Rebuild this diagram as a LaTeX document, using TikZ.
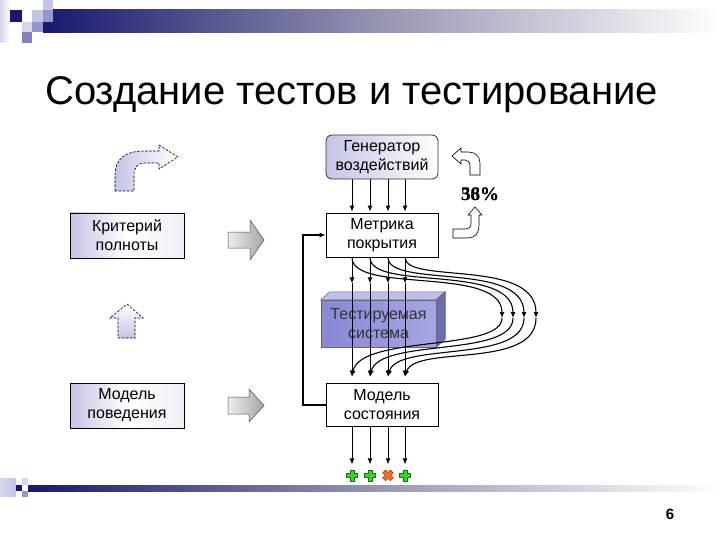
\documentclass[tikz,border=0pt]{standalone}
\usepackage{fontspec}
\setmainfont{Liberation Sans}
\newfontfamily\serifbold{Liberation Serif}
\usetikzlibrary{arrows.meta,calc}
\definecolor{navy}{RGB}{24,24,112}
\definecolor{barmid}{RGB}{150,150,178}
\definecolor{lav}{RGB}{196,196,230}
\definecolor{lavmid}{RGB}{150,150,206}
\definecolor{lavlight}{RGB}{214,214,238}
\definecolor{sysfront}{RGB}{136,136,212}
\definecolor{sysfront2}{RGB}{166,166,228}
\definecolor{systop}{RGB}{190,190,236}
\definecolor{sysside}{RGB}{108,108,176}
\definecolor{plusgreen}{RGB}{60,210,40}
\definecolor{plusdark}{RGB}{20,120,20}
\definecolor{crossorange}{RGB}{240,110,40}
\definecolor{crossdark}{RGB}{170,60,20}
\begin{document}
\begin{tikzpicture}[x=1pt,y=-1pt,
  box/.style={draw=black, line width=0.8pt, minimum width=112pt, minimum height=44pt,
    align=center, inner sep=0pt, font=\fontsize{16}{19}\selectfont},
  arr/.style={line width=0.9pt, -{Latex[length=6pt,width=5pt]}},
  carr/.style={line width=1.1pt, -{Latex[length=6pt,width=5pt]}},
  fb/.style={line width=2pt, -{Latex[length=6pt,width=5pt]}},
  blockgray/.style={draw=black!70, line width=0.5pt, left color=gray!15, right color=gray!70},
  dashshape/.style={draw=black, dashed, dash pattern=on 2.5pt off 1.5pt, line width=0.6pt},
  outline/.style={draw=black, fill=white, line width=0.6pt},
  plusmark/.pic={\filldraw[fill=plusgreen, draw=plusdark, line width=0.6pt]
     (-2,-5.5) -- (2,-5.5) -- (2,-2) -- (5.5,-2) -- (5.5,2) -- (2,2) -- (2,5.5) -- (-2,5.5)
     -- (-2,2) -- (-5.5,2) -- (-5.5,-2) -- (-2,-2) -- cycle;},
  crossmark/.pic={\filldraw[fill=crossorange, draw=crossdark, line width=0.6pt, rotate=45]
     (-2,-5.5) -- (2,-5.5) -- (2,-2) -- (5.5,-2) -- (5.5,2) -- (2,2) -- (2,5.5) -- (-2,5.5)
     -- (-2,2) -- (-5.5,2) -- (-5.5,-2) -- (-2,-2) -- cycle;}
]
\useasboundingbox (0,0) rectangle (720,540);
\fill[white] (0,0) rectangle (720,540);

% ---- header decoration ----
\shade[left color=lavlight, right color=white] (0,0) rectangle (10,43);
\shade[left color=navy, right color=white, middle color=barmid] (43,10) rectangle (720,33);
\fill[navy] (10,10) rectangle (22,22);
\fill[lav] (32,10) rectangle (43,22);
\fill[lav] (43,0) rectangle (53,10);
\fill[lavmid] (43,10) rectangle (53,22);
\fill[lavlight] (22,22) rectangle (32,32);
\fill[lavmid] (32,22) rectangle (43,32);
\fill[lavmid!85!navy] (22,32) rectangle (32,43);

% ---- footer decoration ----
\shade[left color=navy, right color=white, middle color=barmid] (28,485) rectangle (720,491);
\shade[left color=lavlight, right color=lav] (0,478) rectangle (16,496);
\fill[navy] (16,485) rectangle (22,491);
\fill[lavlight] (22,478) rectangle (28,485);
\fill[lavmid] (22,491) rectangle (28,497);

% ---- title ----
\node[anchor=base west, inner sep=0pt, font=\fontsize{40}{44}\selectfont] (title) at (45,105) {Создание тестов и тестирование};

% ---- right column ----
\node[box, rounded corners=6pt, draw=black!80, left color=lav, right color=white] (gen) at (382,157) {Генератор\\воздействий};
\node[box, fill=white] (metr) at (382,235) {Метрика\\покрытия};
\node[box, fill=white, minimum height=43pt] (mstate) at (382,404.5) {Модель\\состояния};

% system 3D box
\node[draw=black!60, line width=0.5pt, left color=sysfront, right color=sysfront2,
  minimum width=115pt, minimum height=47pt, inner sep=0pt, align=center,
  text=black!80, font=\fontsize{16}{19}\selectfont] (sys) at (378.5,323.5) {Тестируемая\\система};
\filldraw[draw=black!60, line width=0.5pt, fill=systop] (sys.north west) -- ++(9,-8) -- ($(sys.north east)+(9,-8)$) -- (sys.north east) -- cycle;
\filldraw[draw=black!60, line width=0.5pt, fill=sysside] (sys.north east) -- ++(9,-8) -- ($(sys.south east)+(9,-8)$) -- (sys.south east) -- cycle;

% arrows generator -> metric
\foreach \dx in {-30,-12,6,23}{
  \draw[arr] ($(gen.south)+(\dx,0)$) -- ($(metr.north)+(\dx,-1)$);
}
% vertical lines metric -> state
\foreach \dx [count=\i] in {-30,-12,6,23}{
  \coordinate (s\i) at ($(metr.south)+(\dx,0)$);
  \coordinate (h\i) at ($(metr.south)+(\dx,26)$);
  \coordinate (b\i) at ($(mstate.north)+(\dx,-6)$);
  \draw[arr] (s\i) -- (h\i);
  \draw[arr] (h\i) -- (b\i);
}
% right turning points
\coordinate (r1) at (502,318);
\coordinate (r2) at (513,318);
\coordinate (r3) at (524,318);
\coordinate (r4) at (536,318);
% curved connectors
\draw[carr] (s1) .. controls +(0,37) and +(0,-53) .. (r1);
\draw[carr] (s2) .. controls +(0,34) and +(0,-55) .. (r2);
\draw[carr] (s3) .. controls +(0,31) and +(0,-57) .. (r3);
\draw[carr] (s4) .. controls +(0,27) and +(0,-60) .. (r4);
\draw[carr] (r1) .. controls +(0,34) and +(8,-42) .. (b1);
\draw[carr] (r2) .. controls +(0,40) and +(9,-39) .. (b2);
\draw[carr] (r3) .. controls +(0,46) and +(9,-35) .. (b3);
\draw[carr] (r4) .. controls +(0,52) and +(10,-32) .. (b4);

% feedback line
\draw[fb] (mstate.west) -- ++(-23,0) |- (metr.west);

% arrows state -> results
\foreach \dx [count=\i] in {-30,-12,6,23}{
  \coordinate (m\i) at ($(mstate.south)+(\dx,49)$);
  \draw[arr] ($(mstate.south)+(\dx,0)$) -- ($(m\i)+(0,-11)$);
}
\pic at (m1) {plusmark};
\pic at (m2) {plusmark};
\pic at (m3) {crossmark};
\pic at (m4) {plusmark};

% percentage and turn arrows
\node[font=\serifbold\bfseries\fontsize{19}{20}\selectfont] (pct) at (480,194) {36\%};
\node[font=\serifbold\bfseries\fontsize{19}{20}\selectfont] (pct2) at (480,194) {58\%};
\path[outline] (452,156) -- (461,148) -- (461,152) -- (468,152) .. controls (475,152) and (480,156) .. (480,163) -- (480,175) -- (470,175) -- (470,166) .. controls (470,162) and (468,160) .. (465,160) -- (461,160) -- (461,164) -- cycle;
\path[outline] (475,207) -- (482,215) -- (479,215) -- (479,226) .. controls (479,233) and (475,238) .. (468,238) -- (453,238) -- (453,229) -- (465,229) .. controls (469,229) and (471,227) .. (471,223) -- (471,215) -- (468,215) -- cycle;

% ---- left column ----
\node[box, draw=black, left color=lav, right color=lavlight!40, middle color=white, minimum width=114pt, minimum height=45pt] (krit) at (127,235.5) {Критерий\\полноты};
\node[box, draw=black, left color=lav, right color=lavlight!40, middle color=white, minimum width=114pt, minimum height=45pt] (mbeh) at (127,405.5) {Модель\\поведения};

% gray block arrows
\path[blockgray] (228,232) -- (250,232) -- (250,220) -- (264,240) -- (250,260) -- (250,248) -- (228,248) -- cycle;
\path[blockgray] (228,397) -- (249,397) -- (249,389) -- (264,405.5) -- (249,422) -- (249,414) -- (228,414) -- cycle;

% dashed hint arrows
\path[dashshape, left color=lav, right color=white] (115,191) -- (115,175) .. controls (115,158) and (126,151) .. (145,151) -- (159,151) -- (159,145) -- (178,157) -- (159,169) -- (159,163) -- (145,163) .. controls (138,163) and (134,167) .. (134,175) -- (134,191) -- cycle;
\path[dashshape, top color=white, bottom color=lav] (127,304) -- (143,318) -- (135,318) -- (135,338) -- (118,338) -- (118,318) -- (110,318) -- cycle;

% page number
\node[font=\bfseries\fontsize{15}{16}\selectfont] (pnum) at (670,514) {6};
\end{tikzpicture}
\end{document}
